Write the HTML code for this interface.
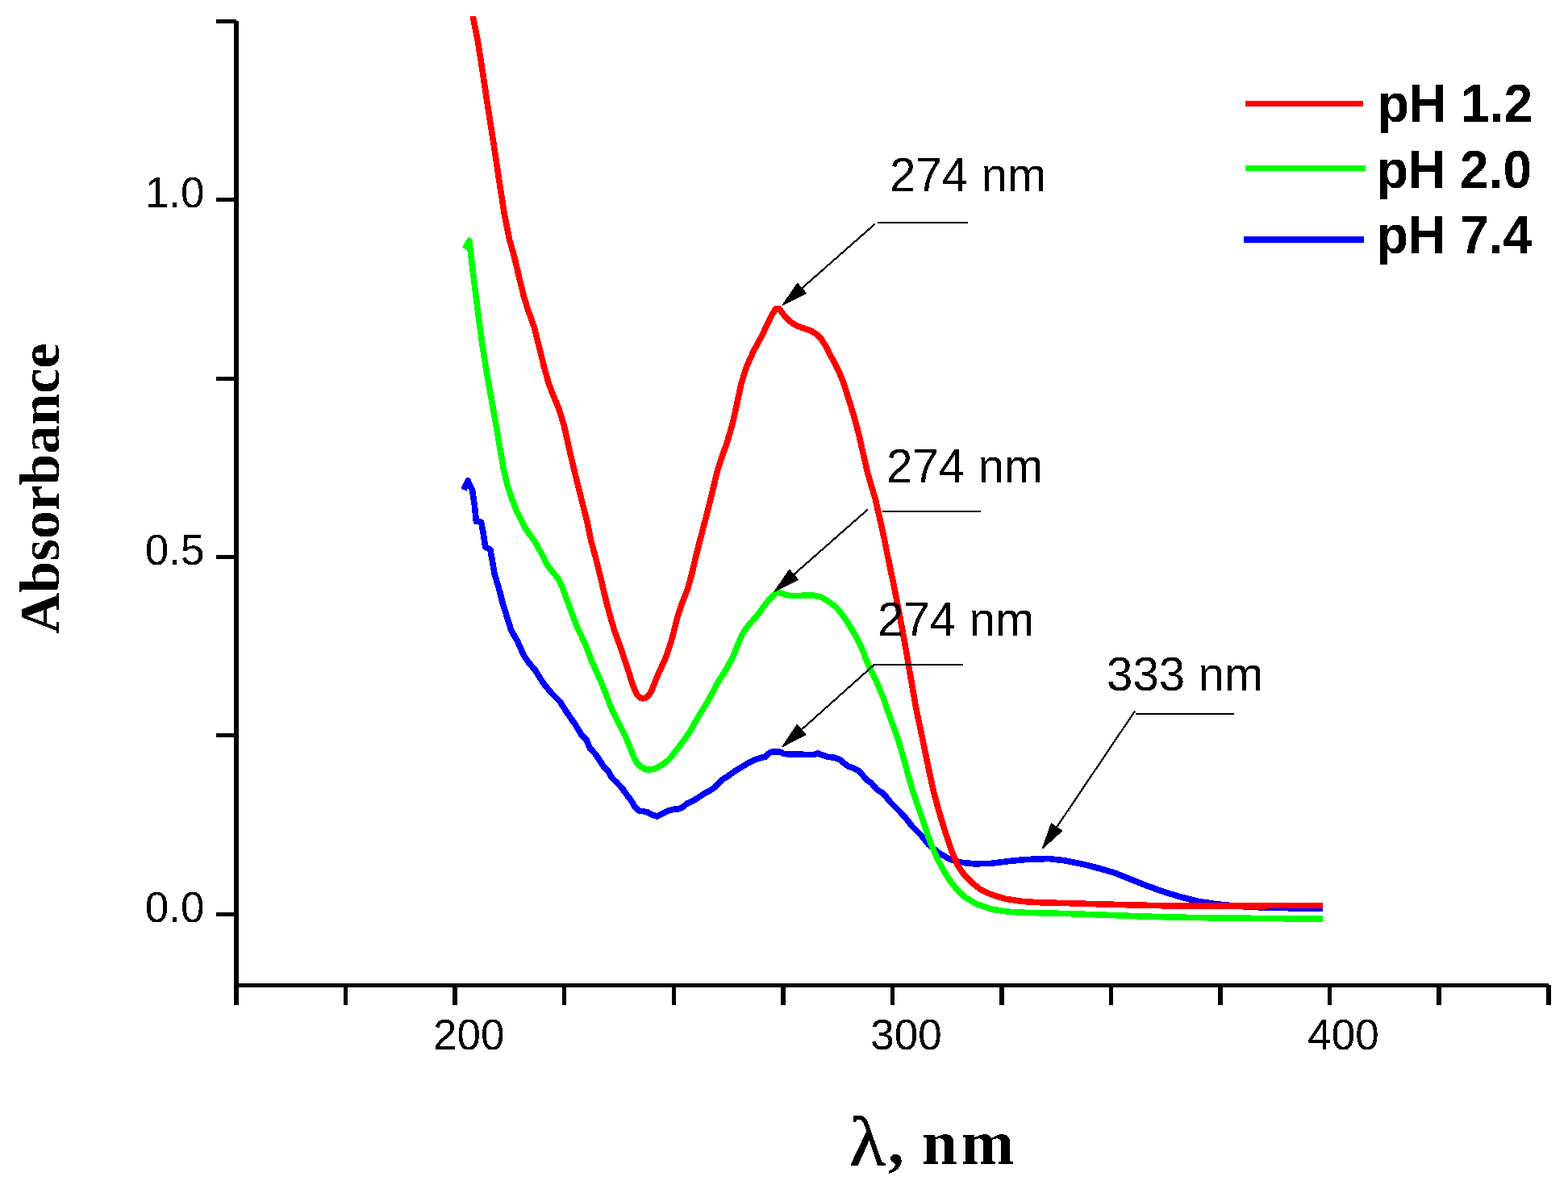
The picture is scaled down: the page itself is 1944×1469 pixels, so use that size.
<!DOCTYPE html>
<html lang="en">
<head>
<meta charset="utf-8">
<title>UV absorbance spectra</title>
<style>
html,body{margin:0;padding:0;background:#fff;}
body{width:1944px;height:1469px;overflow:hidden;}
svg{display:block;}
.sans{font-family:"Liberation Sans",sans-serif;}
.serif{font-family:"Liberation Serif",serif;}
.tick{font-size:53px;}
.ann{font-size:58.3px;}
.leg{font-size:64px;font-weight:bold;}
</style>
</head>
<body>
<svg width="1944" height="1469" viewBox="0 0 1944 1469">
<rect width="1944" height="1469" fill="#fff"/>
<defs><filter id="bilevel" x="-5%" y="-20%" width="110%" height="140%" color-interpolation-filters="sRGB"><feComponentTransfer><feFuncA type="discrete" tableValues="0 1"/></feComponentTransfer></filter></defs>
<g fill="#000" shape-rendering="crispEdges">
<rect x="290" y="26" width="6" height="1220"/>
<rect x="290" y="1219" width="1630" height="5"/>
<rect x="426" y="1221" width="5" height="25"/>
<rect x="561" y="1221" width="6" height="25"/>
<rect x="697" y="1221" width="5" height="25"/>
<rect x="833" y="1221" width="5" height="25"/>
<rect x="968" y="1221" width="6" height="25"/>
<rect x="1104" y="1221" width="5" height="25"/>
<rect x="1239" y="1221" width="6" height="25"/>
<rect x="1375" y="1221" width="5" height="25"/>
<rect x="1510" y="1221" width="6" height="25"/>
<rect x="1646" y="1221" width="5" height="25"/>
<rect x="1781" y="1221" width="6" height="25"/>
<rect x="1917" y="1221" width="6" height="25"/>
<rect x="268" y="24" width="25" height="5"/>
<rect x="268" y="245" width="25" height="5"/>
<rect x="268" y="467" width="25" height="5"/>
<rect x="268" y="688" width="25" height="5"/>
<rect x="268" y="909" width="25" height="5"/>
<rect x="268" y="1131" width="25" height="5"/>
</g>
<g class="sans tick" fill="#000" filter="url(#bilevel)">
<text text-anchor="end" transform="translate(253.5,257.0) scale(1,1.015)">1.0</text>
<text text-anchor="end" transform="translate(253.5,699.8) scale(1,1.015)">0.5</text>
<text text-anchor="end" transform="translate(253.5,1142.5) scale(1,1.015)">0.0</text>
<text text-anchor="middle" transform="translate(581.3,1300.9) scale(1,1.015)">200</text>
<text text-anchor="middle" transform="translate(1123.5,1300.9) scale(1,1.015)">300</text>
<text text-anchor="middle" transform="translate(1665.5,1300.9) scale(1,1.015)">400</text>
</g>
<g filter="url(#bilevel)">
<text class="serif" font-size="70.5" font-weight="bold" text-anchor="middle" transform="translate(73.4,605.7) rotate(-90)">Absorbance</text>
</g>
<g filter="url(#bilevel)">
<text class="serif" font-size="79" font-weight="bold" y="1443"><tspan x="1053" y="1443.5" font-size="87" font-weight="normal" stroke="#000" stroke-width="1" textLength="44.7" lengthAdjust="spacingAndGlyphs">λ</tspan><tspan x="1101" y="1443">,</tspan> <tspan x="1143">n</tspan><tspan x="1191.5">m</tspan></text>
</g>
<defs><clipPath id="plotclip"><rect x="296" y="20" width="1343.5" height="1199"/></clipPath></defs>
<g clip-path="url(#plotclip)" fill="none" stroke-width="7.6" stroke-linejoin="round" stroke-linecap="butt" shape-rendering="crispEdges">
<polyline points="575.0,607.2 580.1,596.0 585.7,608.2 588.4,626.7 590.4,646.3 596.6,647.3 599.7,663.8 601.7,678.2 607.9,681.3 611.0,698.8 613.0,711.1 619.2,731.7 623.3,748.1 628.5,764.6 633.6,781.1 641.9,795.5 649.1,811.9 655.2,821.2 663.5,830.7 673.7,847.1 684.0,859.5 694.3,869.8 702.6,883.0 712.8,897.5 721.1,911.1 727.2,917.3 731.4,927.6 738.0,934.5 743.3,942.5 748.2,949.9 754.0,956.0 758.9,964.5 764.7,970.0 771.3,977.0 777.0,985.3 782.8,992.7 786.9,1000.1 791.9,1005.0 797.6,1005.8 803.4,1007.1 808.3,1010.0 814.1,1012.0 819.0,1010.0 824.0,1007.1 828.9,1005.0 834.7,1003.4 842.1,1002.7 847.0,1000.1 851.9,996.0 859.3,992.7 865.9,988.6 873.3,983.6 879.9,980.3 884.9,977.0 890.6,971.3 895.6,966.3 900.0,963.9 912.3,955.1 920.0,950.5 928.2,945.6 936.5,941.5 944.7,939.0 948.8,938.2 952.9,934.1 956.2,932.3 962.8,931.9 967.7,932.3 971.9,934.5 981.7,935.1 991.6,935.1 1002.3,935.6 1009.7,935.3 1013.8,933.9 1018.8,935.7 1026.2,938.2 1035.2,939.4 1041.0,941.5 1046.7,946.4 1051.7,950.1 1059.9,953.0 1064.9,955.9 1070.6,962.1 1074.7,967.0 1080.0,970.3 1087.2,978.8 1095.5,983.9 1103.7,994.2 1116.0,1006.5 1124.3,1015.8 1130.5,1024.0 1142.8,1036.4 1151.0,1046.7 1163.4,1057.0 1177.8,1065.2 1192.2,1069.3 1208.6,1070.9 1229.2,1070.3 1249.8,1067.7 1270.4,1065.6 1300.6,1064.5 1321.2,1067.0 1341.7,1071.1 1362.3,1076.3 1382.9,1082.4 1403.5,1090.7 1424.0,1098.9 1444.6,1106.1 1465.2,1112.3 1485.8,1117.4 1506.3,1120.5 1526.9,1122.6 1547.5,1124.2 1568.1,1125.0 1588.6,1125.6 1642.0,1126.3" stroke="#0000ff"/>
<polyline points="576.2,308.6 581.8,298.4 584.8,324.4 589.3,360.9 593.9,398.0 598.5,430.9 603.2,460.9 608.7,491.4 614.3,523.0 619.8,555.6 624.4,581.8 628.7,600.1 634.0,616.9 641.0,634.6 648.7,650.2 655.4,661.1 662.0,669.7 667.8,679.8 673.3,689.9 678.3,700.0 684.4,708.2 691.7,716.9 697.4,728.6 703.2,744.8 710.2,763.4 716.3,779.0 722.7,792.6 727.9,804.1 732.4,816.8 739.0,831.5 744.5,843.7 749.4,855.4 754.8,870.1 760.8,884.6 767.8,898.1 775.6,913.1 781.7,928.6 786.5,940.2 790.1,946.2 794.0,950.0 799.3,953.2 805.2,954.4 811.6,953.2 818.2,949.9 824.6,945.7 831.0,939.6 838.4,930.1 845.0,921.2 851.3,912.9 856.6,904.7 861.2,896.4 866.0,888.1 871.3,879.7 877.8,869.1 884.9,855.7 890.1,845.8 895.4,837.6 901.5,827.6 909.2,813.0 914.8,798.8 919.7,787.5 924.4,779.6 930.1,772.6 936.2,766.0 941.4,759.6 946.3,752.4 951.3,746.1 956.2,740.5 960.9,736.1 964.8,733.9 972.4,736.7 979.3,738.4 986.2,738.6 994.1,738.3 1002.3,738.0 1010.2,738.3 1017.1,739.9 1023.7,743.4 1030.3,747.8 1036.7,753.0 1042.5,759.5 1047.6,766.7 1052.5,774.3 1057.4,782.3 1062.2,790.5 1066.5,799.1 1070.6,808.9 1074.7,819.8 1079.8,831.3 1087.2,846.1 1095.1,865.0 1101.4,883.2 1107.2,899.3 1113.8,917.8 1120.2,939.7 1126.3,962.3 1132.9,984.5 1140.3,1005.5 1147.1,1026.1 1154.1,1045.9 1161.5,1063.1 1169.5,1078.8 1177.8,1091.7 1186.4,1102.9 1196.7,1112.3 1210.3,1120.5 1229.2,1127.0 1249.8,1130.2 1272.2,1131.4 1298.3,1132.0 1325.2,1132.6 1362.3,1133.9 1403.5,1135.5 1444.6,1136.8 1485.8,1137.6 1526.9,1138.0 1574.6,1138.6 1642.0,1139.0" stroke="#00ff00"/>
<polyline points="585.5,16.0 586.3,20.0 592.6,52.2 598.8,92.2 605.2,135.0 612.4,180.7 619.1,225.5 625.4,265.8 631.7,297.2 638.1,320.2 644.0,345.3 649.9,369.5 655.7,387.2 662.6,406.6 668.7,431.3 674.6,455.2 679.9,474.1 685.7,489.7 692.9,506.6 699.5,528.4 705.4,555.1 710.8,578.1 716.0,599.7 721.5,621.4 727.7,645.7 732.8,670.4 738.6,691.7 744.5,715.2 750.1,739.5 755.8,761.8 761.6,781.1 768.0,798.9 773.4,814.5 778.4,829.7 783.2,844.9 787.2,856.2 790.6,862.3 793.9,865.0 797.2,865.9 800.6,865.2 804.6,861.7 808.7,854.2 811.9,845.8 815.2,837.6 818.9,829.4 822.8,821.2 826.2,812.9 829.0,804.7 831.8,796.1 835.1,784.1 839.9,764.9 846.4,745.7 852.6,730.0 857.9,710.7 863.0,688.9 868.4,667.5 874.2,645.7 879.7,623.9 885.3,600.9 890.0,581.4 895.3,565.8 901.9,546.9 908.1,525.5 913.5,501.2 918.8,476.6 924.7,457.0 931.0,442.1 935.8,432.3 940.4,424.1 944.7,415.8 948.7,407.6 952.6,399.4 956.5,391.5 960.0,385.5 962.3,382.4 966.2,382.6 971.9,390.6 977.6,396.8 983.6,401.5 990.3,404.7 998.2,407.5 1006.1,410.4 1012.8,414.7 1018.5,420.8 1022.9,427.7 1027.2,435.8 1031.9,444.7 1036.7,453.5 1041.2,462.9 1046.3,476.4 1052.3,495.1 1058.4,514.8 1064.6,537.8 1070.6,564.2 1075.6,585.9 1079.9,600.9 1085.1,618.1 1090.5,641.6 1096.3,667.9 1101.6,694.3 1106.8,719.3 1112.1,745.7 1117.9,776.2 1123.1,805.0 1127.6,831.3 1132.3,858.5 1136.6,882.4 1141.1,903.4 1146.9,931.4 1152.9,960.6 1158.2,984.1 1163.6,1003.9 1169.5,1023.6 1175.7,1042.6 1181.7,1059.9 1187.4,1073.0 1194.8,1083.7 1204.5,1093.8 1215.6,1102.7 1229.6,1109.2 1246.5,1114.2 1266.3,1117.3 1285.3,1118.6 1301.6,1119.1 1325.2,1119.7 1362.3,1120.8 1403.5,1121.9 1444.6,1122.8 1485.8,1123.0 1526.9,1122.9 1574.6,1122.7 1642.0,1122.6" stroke="#ff0000"/>
</g>
<g class="sans ann" fill="#000" filter="url(#bilevel)">
<text transform="translate(1103,237.4) scale(1,1.025)">274 nm</text>
<text transform="translate(1099,598) scale(1,1.025)">274 nm</text>
<text transform="translate(1088,788.3) scale(1,1.025)">274 nm</text>
<text transform="translate(1372,855.7) scale(1,1.025)">333 nm</text>
</g>
<g stroke="#000" stroke-width="2" shape-rendering="crispEdges">
<line x1="1088" y1="276" x2="1200" y2="276"/>
<line x1="1094" y1="634" x2="1216" y2="634"/>
<line x1="1082" y1="824" x2="1194" y2="824"/>
<line x1="1408" y1="885" x2="1530" y2="885"/>
</g>
<line x1="1085.2" y1="277.3" x2="992.5" y2="358.8" stroke="#000" stroke-width="2.2" shape-rendering="crispEdges"/><polygon points="970.3,378.3 988.7,351.5 999.2,363.5" fill="#000" stroke="#000" stroke-width="1.4" stroke-linejoin="round" shape-rendering="crispEdges"/>
<line x1="1075.8" y1="631.6" x2="982.4" y2="713.8" stroke="#000" stroke-width="2.2" shape-rendering="crispEdges"/><polygon points="960.3,733.3 978.7,706.5 989.2,718.5" fill="#000" stroke="#000" stroke-width="1.4" stroke-linejoin="round" shape-rendering="crispEdges"/>
<line x1="1083.5" y1="824.3" x2="992.0" y2="906.0" stroke="#000" stroke-width="2.2" shape-rendering="crispEdges"/><polygon points="970,925.6 988.2,898.7 998.8,910.6" fill="#000" stroke="#000" stroke-width="1.4" stroke-linejoin="round" shape-rendering="crispEdges"/>
<line x1="1407" y1="881.5" x2="1309.0" y2="1027.1" stroke="#000" stroke-width="2.2" shape-rendering="crispEdges"/><polygon points="1292.5,1051.6 1303.5,1021.0 1316.7,1029.9" fill="#000" stroke="#000" stroke-width="1.4" stroke-linejoin="round" shape-rendering="crispEdges"/>
<g shape-rendering="crispEdges">
<rect x="1544" y="125" width="146" height="7" fill="#ff0000"/>
<rect x="1544" y="205" width="149" height="7" fill="#00ff00"/>
<rect x="1542" y="293" width="149" height="8" fill="#0000ff"/>
</g>
<g class="sans leg" fill="#000" filter="url(#bilevel)">
<text transform="translate(1708,151) scale(1,1.045)">pH 1.2</text>
<text transform="translate(1707,233.4) scale(1,1.045)">pH 2.0</text>
<text transform="translate(1707,313.8) scale(1,1.045)">pH 7.4</text>
</g>
</svg>
</body>
</html>
